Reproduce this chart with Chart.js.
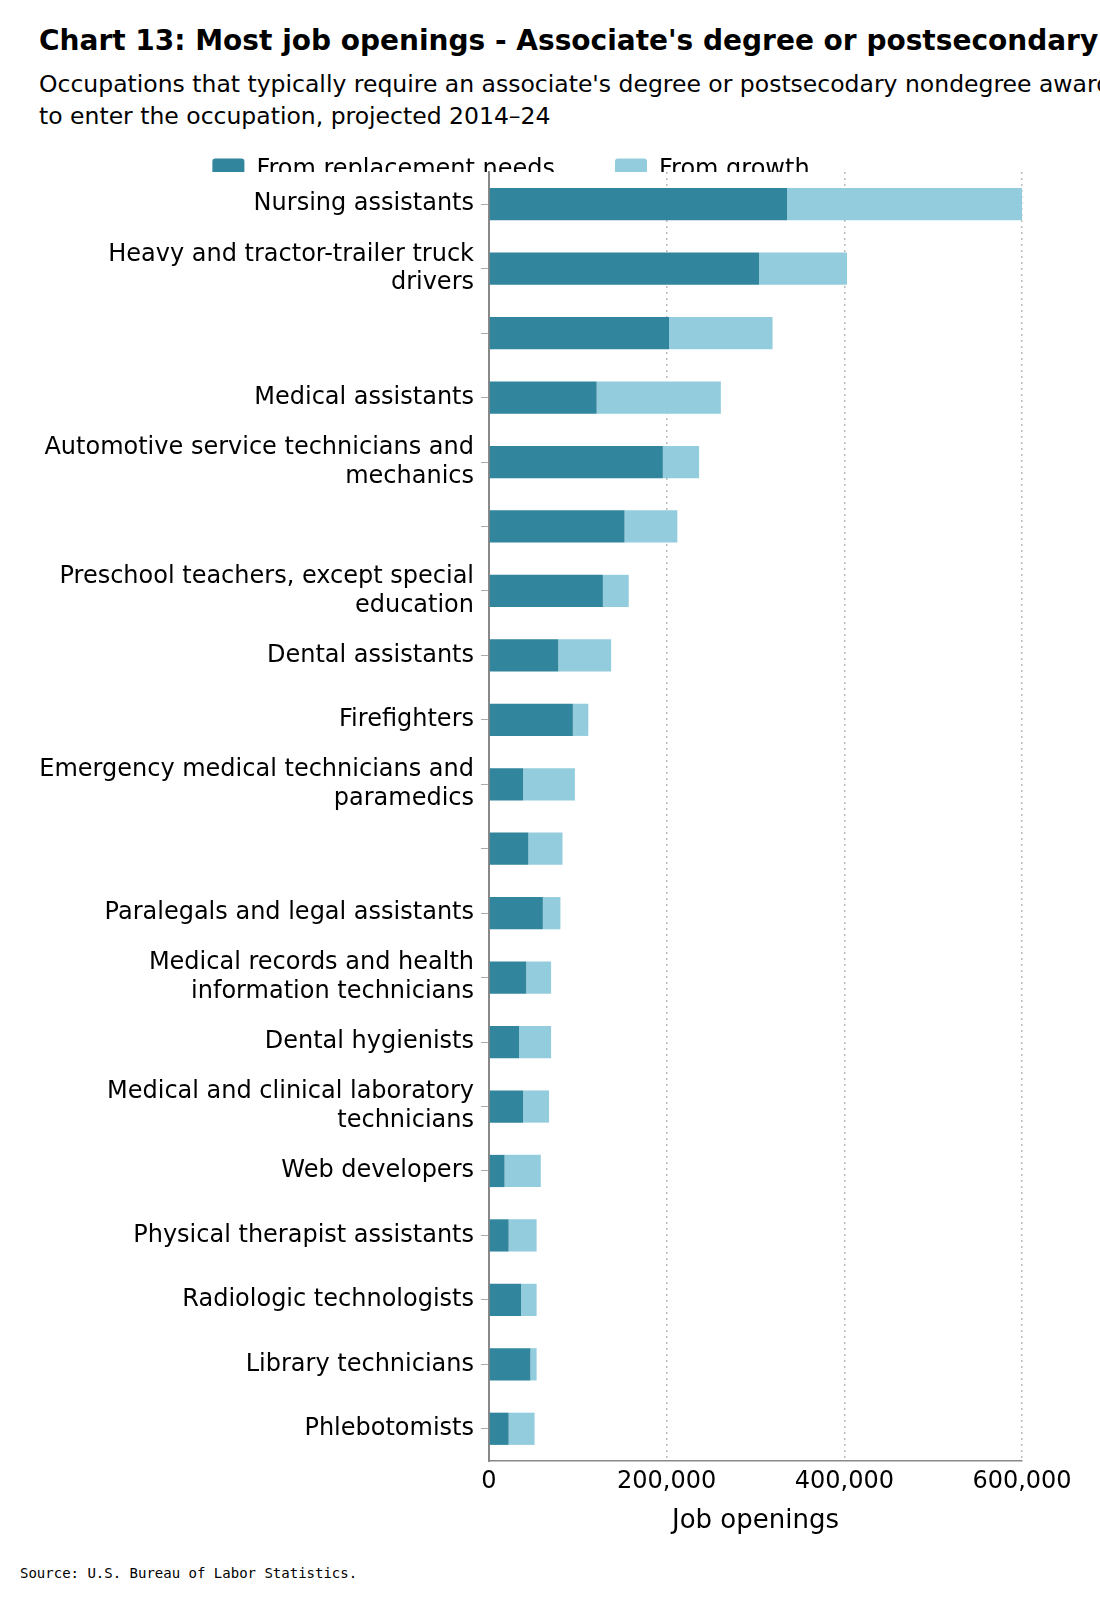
<!DOCTYPE html>
<html>
<head>
<script src="https://cdn.jsdelivr.net/npm/chart.js@4"></script>
<style>
  body { margin:0; width:1100px; height:1620px; overflow:hidden; background:#fff; font-family:"DejaVu Sans", sans-serif; position:relative; }
  #title { position:absolute; left:39px; top:24px; font-size:28px; font-weight:bold; white-space:nowrap; }
  #sub { position:absolute; left:39px; top:68px; font-size:23.5px; line-height:32px; white-space:nowrap; }
  #src { position:absolute; left:20px; top:1565px; font-size:14px; font-family:"DejaVu Sans Mono", monospace; }
  #wrap { position:absolute; left:0; top:98px; width:1100px; height:1447px; }
</style>
</head>
<body>
<div id="title">Chart 13: Most job openings - Associate's degree or postsecondary nondegree award</div>
<div id="sub">Occupations that typically require an associate's degree or postsecodary nondegree award<br>to enter the occupation, projected 2014–24</div>
<div id="wrap"><canvas id="chart"></canvas></div>
<div id="src">Source: U.S. Bureau of Labor Statistics.</div>
<script>
var occupations = [
  "Nursing assistants",
  ["Heavy and tractor-trailer truck", "drivers"],
  "",
  "Medical assistants",
  ["Automotive service technicians and", "mechanics"],
  "",
  ["Preschool teachers, except special", "education"],
  "Dental assistants",
  "Firefighters",
  ["Emergency medical technicians and", "paramedics"],
  "",
  "Paralegals and legal assistants",
  ["Medical records and health", "information technicians"],
  "Dental hygienists",
  ["Medical and clinical laboratory", "technicians"],
  "Web developers",
  "Physical therapist assistants",
  "Radiologic technologists",
  "Library technicians",
  "Phlebotomists"
];
var replacement = [335500, 304000, 202700, 121200, 195700, 152600, 128200, 78000, 94400, 38400,
                   44300, 60600, 41900, 33800, 38400, 17500, 22100, 36100, 46600, 22100];
var growth = [264500, 99000, 116500, 139800, 40800, 59400, 29100, 59500, 17400, 58300,
              38400, 19800, 28000, 36100, 29200, 40800, 31500, 17500, 7000, 29200];
var xTicks = [0, 200000, 400000, 600000];

var legendGap = {
  id: "legendGap",
  beforeInit: function (chart) {
    var fit = chart.legend.fit;
    chart.legend.fit = function () { fit.bind(chart.legend)(); this.height -= 20; };
  }
};

new Chart(document.getElementById("chart"), {
  type: "bar",
  data: {
    labels: occupations,
    datasets: [
      { label: "From replacement needs", data: replacement, backgroundColor: "#31859c", barPercentage: 0.5, categoryPercentage: 1 },
      { label: "From growth", data: growth, backgroundColor: "#93cddd", barPercentage: 0.5, categoryPercentage: 1 }
    ]
  },
  options: {
    indexAxis: "y",
    responsive: true,
    maintainAspectRatio: false,
    animation: false,
    layout: { padding: { left: 0, right: 78, top: 0, bottom: 4 } },
    plugins: {
      legend: {
        labels: { font: { family: "DejaVu Sans", size: 24 }, color: "#000", boxWidth: 32, boxHeight: 23, padding: 60, useBorderRadius: true, borderRadius: 3 },
        onClick: null
      },
      tooltip: { enabled: false }
    },
    scales: {
      x: {
        stacked: true,
        min: 0, max: 600000,
        afterBuildTicks: function (axis) { axis.ticks = xTicks.map(function (v) { return { value: v }; }); },
        ticks: { font: { family: "DejaVu Sans", size: 24 }, color: "#000", padding: 6,
          callback: function (v) { return v.toLocaleString("en-US"); } },
        grid: { drawTicks: false, color: function (c) { return c.index === 0 ? "rgba(0,0,0,0)" : "#bbb"; }, lineWidth: 1.5 },
        border: { display: true, color: "#888", width: 1.5, dash: [2, 4] },
        title: { display: true, text: "Job openings", font: { family: "DejaVu Sans", size: 26 }, color: "#000", padding: { top: 4 } }
      },
      y: {
        stacked: true,
        afterFit: function (axis) { axis.width = 489; },
        ticks: { font: { family: "DejaVu Sans", size: 24 }, color: "#000", padding: 7, autoSkip: false },
        grid: { drawOnChartArea: false, drawTicks: true, tickLength: 8, color: "#aaa", offset: false },
        border: { display: true, color: "#888", width: 2 }
      }
    }
  },
  plugins: [legendGap]
});
</script>
</body>
</html>
